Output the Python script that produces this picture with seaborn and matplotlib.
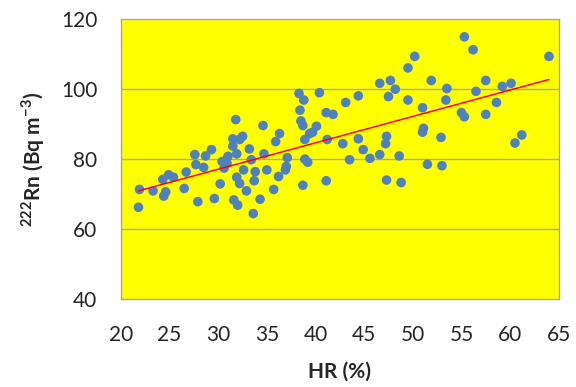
import matplotlib
matplotlib.use("Agg")
import matplotlib.pyplot as plt
import seaborn as sns
import numpy as np
from matplotlib.ticker import MultipleLocator

# ---------- DATA ----------

hr = [
    21.9, 21.8, 23.3, 24.3, 24.6, 24.4, 24.9, 25.4, 26.5, 26.7,
    27.6, 27.7, 27.9, 28.5, 28.7, 29.3, 29.6, 30.2, 30.4, 30.6,
    31.0, 30.9, 31.5, 31.5, 31.8, 31.9, 32.2, 32.5, 31.6, 32.0,
    31.9, 32.2, 32.6, 32.9, 33.2, 33.4, 33.8, 33.7, 33.6, 34.3,
    34.6, 34.7, 35.0, 35.7, 35.9, 36.3, 36.2, 36.9, 37.1, 37.0,
    38.3, 38.8, 38.4, 38.5, 38.7, 38.7, 38.9, 38.9, 39.2, 39.4,
    39.7, 40.1, 40.4, 41.1, 41.8, 41.2, 41.1,
    42.8, 43.5, 43.1, 44.4, 44.4, 44.9, 45.6, 46.6, 46.6, 47.3,
    47.2, 47.3, 47.7, 47.5, 48.2, 48.6, 48.8, 49.5, 49.5, 50.2,
    51.0, 51.1, 51.0, 51.5, 51.9, 52.9, 53.0, 53.4, 53.5, 55.0,
    55.3, 55.3, 56.2, 56.5, 57.5, 57.5, 58.6, 59.2, 60.1, 60.5,
    61.2, 64.0,
]

rn = [
    71.3, 66.2, 70.9, 74.2, 70.6, 69.4, 75.5, 74.8, 71.6, 76.3,
    81.3, 78.4, 67.8, 77.6, 80.9, 82.7, 68.7, 72.9, 79.3, 77.4,
    80.8, 78.8, 85.8, 83.7, 91.3, 81.5, 85.6, 86.5, 68.3, 66.8,
    74.8, 73.0, 76.9, 70.9, 82.9, 79.8, 76.4, 73.8, 64.4, 68.5,
    89.6, 81.5, 76.9, 71.3, 85.0, 87.3, 75.0, 76.9, 80.4, 77.9,
    98.8, 96.9, 94.0, 90.9, 89.6, 72.5, 85.6, 80.0, 79.1, 87.3,
    87.7, 89.4, 99.0, 93.3, 92.8, 85.6, 73.8,
    84.4, 79.8, 96.2, 98.1, 85.8, 82.7, 80.2, 101.7, 81.3, 86.5,
    84.4, 74.0, 102.5, 97.9, 100.0, 80.9, 73.3, 106.1, 96.9, 109.4,
    94.7, 88.8, 87.7, 78.5, 102.5, 86.2, 78.1, 96.9, 100.2, 93.3,
    92.1, 115.0, 111.3, 99.4, 102.5, 92.8, 96.2, 100.8, 101.7, 84.6,
    86.9, 109.4,
]

x_ticks = [20, 25, 30, 35, 40, 45, 50, 55, 60, 65]
y_ticks = [40, 60, 80, 100, 120]

# ---------- PLOT ----------

sns.set_style("white")
plt.rcParams["font.family"] = ["Lato", "DejaVu Sans"]
plt.rcParams["mathtext.fontset"] = "custom"
plt.rcParams["mathtext.rm"] = "Lato"
plt.rcParams["mathtext.bf"] = "Lato:bold"

fig = plt.figure(figsize=(5.76, 3.87), dpi=100)
ax = fig.add_axes([0.210, 0.228, 0.760, 0.722])
ax.set_facecolor("#FFFF00")

ax.grid(False)
for yv in [60, 80, 100]:
    ax.axhline(yv, color="#A6A6A6", lw=1.0, zorder=1)

sns.scatterplot(x=hr, y=rn, ax=ax, s=48, color="#4F81BD",
                edgecolor="none", linewidth=0, zorder=3)
sns.regplot(x=np.array(hr), y=np.array(rn), ax=ax, scatter=False, ci=None,
            truncate=True, line_kws={"color": "#FF0000", "lw": 1.1, "zorder": 4})

ax.set_xlim(20, 65)
ax.set_ylim(40, 120)
ax.set_xticks(x_ticks)
ax.set_yticks(y_ticks)
ax.yaxis.set_minor_locator(MultipleLocator(10))

for s in ax.spines.values():
    s.set_color("#A6A6A6")
    s.set_linewidth(1.0)

ax.tick_params(axis="x", which="major", direction="out", length=9,
               color="#A6A6A6", labelsize=15, labelcolor="#262626", pad=10)
ax.tick_params(axis="y", which="both", direction="out", length=7,
               color="#A6A6A6", labelsize=15, labelcolor="#262626", pad=10)
ax.tick_params(axis="y", which="minor", length=7)

ax.set_xlabel("HR (%)", fontsize=15, fontweight="bold", color="#262626", labelpad=12)
ax.set_ylabel(r"$^{\mathbf{222}}$Rn (Bq m$^{\mathbf{-3}}$)", fontsize=15,
              fontweight="bold", color="#262626", labelpad=10)

fig.savefig("out.png", dpi=100)
